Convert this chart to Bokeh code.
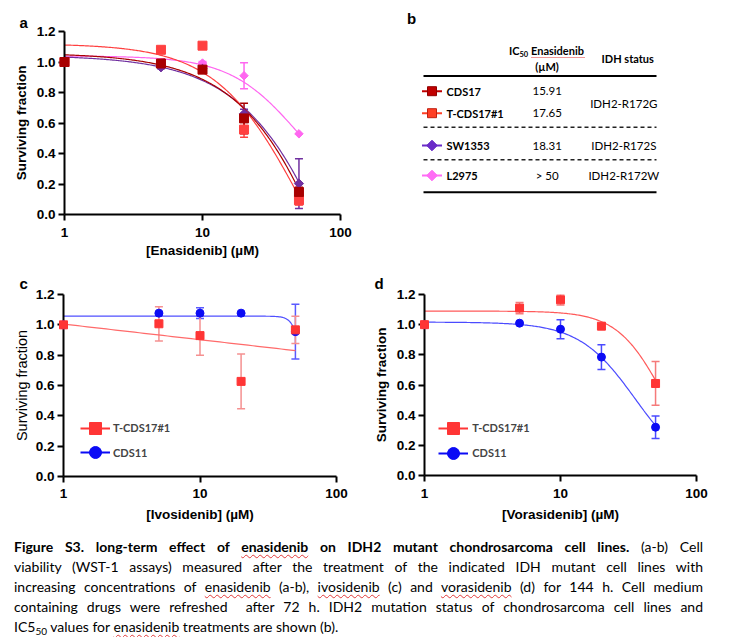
import numpy as np
from bokeh.plotting import figure
from bokeh.models import (ColumnDataSource, Range1d, Whisker, TeeHead, Legend,
                          LegendItem, Div, FixedTicker, NumeralTickFormatter, BasicTickFormatter)
from bokeh.layouts import column, row
from bokeh.embed import file_html
from bokeh.resources import INLINE
from bokeh.core.properties import value

FONT = "Liberation Sans"
TFONT = "Lato"

# ---------------- data ----------------
doses = [1, 5, 10, 20, 50]
x_ticks = [1, 10, 100]
y_ticks = [0.0, 0.2, 0.4, 0.6, 0.8, 1.0, 1.2]

# panel a : enasidenib
a_cds17 = [1.00, 0.99, 0.95, 0.63, 0.148]
a_cds17_err = [0.0, 0.03, 0.02, 0.10, 0.03]
a_tcds17 = [1.00, 1.08, 1.107, 0.557, 0.093]
a_tcds17_err = [0.0, 0.0, 0.0, 0.05, 0.03]
a_sw1353 = [1.00, 0.965, 0.955, 0.66, 0.203]
a_sw1353_err = [0.0, 0.01, 0.01, 0.03, 0.163]
a_l2975 = [1.00, 0.99, 0.993, 0.91, 0.529]
a_l2975_err = [0.0, 0.01, 0.01, 0.085, 0.0]
# fitted dose-response parameters: top, bottom, IC50, hill
a_cds17_fit = [1.06, -3.0, 149.4, 1.149]
a_tcds17_fit = [1.12, -1.0, 54.2, 1.38]
a_sw1353_fit = [1.045, -3.0, 166.5, 1.12]
a_l2975_fit = [1.04, 0.0, 51.0, 1.72]

# panel b : table
b_lines = ["CDS17", "T-CDS17#1", "SW1353", "L2975"]
b_ic50 = ["15.91", "17.65", "18.31", "> 50"]
b_status = ["IDH2-R172G", "IDH2-R172S", "IDH2-R172W"]

# panel c : ivosidenib
c_tcds17 = [1.00, 1.007, 0.929, 0.627, 0.967]
c_tcds17_err = [0.0, 0.113, 0.13, 0.18, 0.09]
c_cds11 = [1.00, 1.077, 1.077, 1.077, 0.955]
c_cds11_err = [0.0, 0.01, 0.036, 0.0, 0.18]
c_tcds17_fit = [1.005, -0.103]          # intercept, slope per decade
c_cds11_fit = [1.057, 0.0, 59.6, 12.4]

# panel d : vorasidenib
d_tcds17 = [1.00, 1.11, 1.165, 0.99, 0.61]
d_tcds17_err = [0.0, 0.037, 0.035, 0.0, 0.145]
d_cds11 = [1.00, 1.01, 0.97, 0.785, 0.32]
d_cds11_err = [0.0, 0.0, 0.063, 0.082, 0.075]
d_tcds17_fit = [1.09, 0.0, 56.5, 2.58]
d_cds11_fit = [1.017, 0.0, 35.4, 2.11]

C_CDS17 = "#A80000"
C_TCDS = "#FF4040"
C_SW = "#7030A0"
C_L = "#FF66F0"
C_RED = "#FF3535"
C_BLUE = "#0B0BF5"


def fit_curve(params, xmax=50):
    top, bottom, ic50, hill = params
    xs = np.logspace(0, np.log10(xmax), 200)
    ys = bottom + (top - bottom) / (1 + (xs / ic50) ** hill)
    return xs, ys


def loglin_curve(params, xmax=50):
    a, b = params
    xs = np.logspace(0, np.log10(xmax), 50)
    return xs, a + b * np.log10(xs)


def panel(fw, fh, bl, br, bt, bb, xlabel, ylabel, letter, loff, lstand, lvalign="bottom",
          ybold=True, ysize="13.5px", xms=7, xls=3, yls=5):
    p = figure(x_axis_type="log", x_range=Range1d(1, 100), y_range=Range1d(0, 1.2),
               frame_width=fw, frame_height=fh, min_border_left=bl, min_border_right=br,
               min_border_top=bt, min_border_bottom=bb, output_backend="svg",
               toolbar_location=None, title=letter, frame_align=False)
    p.title.align = "left"
    p.title.vertical_align = lvalign
    p.title.offset = loff
    p.title.standoff = lstand
    p.title.text_font = FONT
    p.title.text_font_style = "bold"
    p.title.text_font_size = "15px"
    p.title.text_color = "black"
    p.xgrid.visible = False
    p.ygrid.visible = False
    p.outline_line_color = None
    xa, ya = p.xaxis[0], p.yaxis[0]
    xa.ticker = FixedTicker(ticks=x_ticks)
    xa.formatter = BasicTickFormatter()
    ya.ticker = FixedTicker(ticks=y_ticks)
    ya.formatter = NumeralTickFormatter(format="0.0")
    for ax in (xa, ya):
        ax.axis_line_width = 2
        ax.axis_line_color = "black"
        ax.major_tick_line_width = 2
        ax.major_tick_line_color = "black"
        ax.major_tick_out = 6
        ax.major_tick_in = 0
        ax.minor_tick_line_color = None
        ax.major_label_text_font = FONT
        ax.major_label_text_font_style = "bold"
        ax.major_label_text_font_size = "13.5px"
        ax.major_label_text_color = "black"
        ax.axis_label_text_font = FONT
        ax.axis_label_text_color = "black"
    xa.major_label_standoff = xms
    ya.major_label_standoff = 3
    xa.axis_label = xlabel
    xa.axis_label_text_font_style = "bold"
    xa.axis_label_text_font_size = "13.5px"
    xa.axis_label_standoff = xls
    ya.axis_label = ylabel
    ya.axis_label_text_font_style = "bold" if ybold else "normal"
    ya.axis_label_text_font_size = ysize
    ya.axis_label_standoff = yls
    return p


def add_series(p, mean, err, color, marker, size, err_color, angle=0.0):
    src = ColumnDataSource(dict(x=doses, y=mean))
    ex = [d for d, e in zip(doses, err) if e > 0]
    if ex:
        lo = [m - e for m, e in zip(mean, err) if e > 0]
        hi = [m + e for m, e in zip(mean, err) if e > 0]
        esrc = ColumnDataSource(dict(x=ex, lo=lo, hi=hi))
        w = Whisker(source=esrc, base="x", upper="hi", lower="lo", dimension="height",
                    line_color=err_color, line_width=1.5,
                    upper_head=TeeHead(size=8, line_color=err_color, line_width=1.5),
                    lower_head=TeeHead(size=8, line_color=err_color, line_width=1.5))
        p.add_layout(w)
    r = p.scatter("x", "y", source=src, marker=marker, size=size, fill_color=color,
                  line_color=color, angle=angle)
    r.level = "overlay"
    return r


# ---------------- panel a ----------------
pa = panel(276, 183, 64, 40, 31, 56, "[Enasidenib] (\u00b5M)", "Surviving fraction",
           "a", -45, 1, xms=7, xls=3, yls=5)
for fit, col in [(a_l2975_fit, C_L), (a_sw1353_fit, C_SW), (a_tcds17_fit, C_TCDS), (a_cds17_fit, C_CDS17)]:
    xs, ys = fit_curve(fit)
    pa.line(xs, ys, line_color=col, line_width=1.2)
add_series(pa, a_l2975, a_l2975_err, C_L, "square", 6, C_L, np.pi / 4)
add_series(pa, a_sw1353, a_sw1353_err, C_SW, "square", 6.5, C_SW, np.pi / 4)
add_series(pa, a_tcds17, a_tcds17_err, C_TCDS, "square", 9, C_TCDS)
add_series(pa, a_cds17, a_cds17_err, C_CDS17, "square", 9, C_CDS17)

# ---------------- panel b ----------------
pb = figure(x_range=Range1d(380, 747), y_range=Range1d(270, 0), width=367, height=270,
            frame_width=367, frame_height=270, min_border=0, x_axis_location=None,
            y_axis_location=None, output_backend="svg", toolbar_location=None, title=None,
            frame_align=False)
pb.outline_line_color = None
pb.xgrid.visible = False
pb.ygrid.visible = False
row_y = [90.7, 112.7, 145, 175]
status_y = [103.3, 145, 175]
icon_cols = ["#C00000", "#FF3F25", "#6A2BC8", "#FF6CF5"]
pb.text(x=[406.5], y=[18.3], text=["b"], text_font=value(FONT), text_font_style="bold",
        text_font_size="15px", text_baseline="middle", text_align="left")
hdr = dict(text_font=value(TFONT), text_font_style="bold", text_font_size="11px",
           text_baseline="middle", text_color="black")
pb.text(x=[508.5], y=[50.3], text=["IC"], text_align="left", **hdr)
pb.text(x=[519], y=[53], text=["50"], text_align="left", text_font=value(TFONT),
        text_font_style="bold", text_font_size="7.5px", text_baseline="middle")
pb.text(x=[530.5], y=[50.3], text=["Enasidenib"], text_align="left", **hdr)
pb.text(x=[546.5], y=[65.7], text=["(\u00b5M)"], text_align="center", **hdr)
pb.text(x=[627.2], y=[58.3], text=["IDH status"], text_align="center", **hdr)
pb.segment(x0=[531], y0=[57], x1=[584], y1=[57], line_color="#E03030",
           line_width=1, line_dash="1 1")
pb.segment(x0=[423, 423], y0=[75.5, 191.7], x1=[656, 656], y1=[75.5, 191.7],
           line_color="black", line_width=2)
pb.segment(x0=[423, 423], y0=[126.7, 159.3], x1=[656, 656], y1=[126.7, 159.3],
           line_color="#222222", line_width=1.6, line_dash="4 3")
pb.segment(x0=[421.5] * 4, y0=row_y, x1=[441.5] * 4, y1=row_y, line_color=icon_cols,
           line_width=2)
pb.scatter(x=[431.5] * 2, y=row_y[:2], marker="square", size=9, fill_color=icon_cols[:2],
           line_color=["#900000", "#C02010"])
pb.scatter(x=[431.5] * 2, y=row_y[2:], marker="square", size=7.5, angle=np.pi / 4,
           fill_color=icon_cols[2:], line_color=icon_cols[2:])
pb.text(x=[446] * 4, y=row_y, text=b_lines, text_align="left", **hdr)
pb.text(x=[546.7] * 4, y=row_y, text=b_ic50, text_align="center", text_font=value(TFONT),
        text_font_size="11.5px", text_baseline="middle", text_color="black")
pb.text(x=[623.3] * 3, y=status_y, text=b_status, text_align="center", text_font=value(TFONT),
        text_font_size="11.5px", text_baseline="middle", text_color="black")


def legend_for(p, r_red, r_blue, xloc, y1, y2, standoff):
    d1 = p.line(x=[np.nan], y=[np.nan], line_color=C_RED, line_width=2)
    d2 = p.line(x=[np.nan], y=[np.nan], line_color=C_BLUE, line_width=2)
    for lab, rs, yl in [("T-CDS17#1", [d1, r_red], y1), ("CDS11", [d2, r_blue], y2)]:
        lg = Legend(items=[LegendItem(label=lab, renderers=rs)],
                    location=(xloc, yl), glyph_width=30, glyph_height=30, label_height=20,
                    padding=0, margin=0, border_line_color=None,
                    background_fill_alpha=0, label_standoff=standoff,
                    label_text_font=TFONT, label_text_font_style="bold",
                    label_text_font_size="11px", label_text_baseline="middle")
        p.add_layout(lg)


# ---------------- panel c ----------------
pc = panel(273, 182, 63, 34, 24, 54, "[Ivosidenib] (\u00b5M)", "Surviving fraction",
           "c", -44, 2, lvalign="top", ybold=False, ysize="14.5px", xms=6, xls=6, yls=3)
xs, ys = fit_curve(c_cds11_fit)
pc.line(xs, ys, line_color="#5050FF", line_width=1.2)
xs, ys = loglin_curve(c_tcds17_fit)
pc.line(xs, ys, line_color="#FF6A6A", line_width=1.2)
rb = add_series(pc, c_cds11, c_cds11_err, C_BLUE, "circle", 8, "#5A5AFF")
rr = add_series(pc, c_tcds17, c_tcds17_err, C_RED, "square", 8, "#F59090")
legend_for(pc, rr, rb, 17, 33.3, 8.7, 3)

# ---------------- panel d ----------------
pd_ = panel(272, 181, 54, 51, 24, 55, "[Vorasidenib] (\u00b5M)", "Surviving fraction",
            "d", -50, 2, lvalign="top", xms=7, xls=6, yls=5)
xs, ys = fit_curve(d_cds11_fit)
pd_.line(xs, ys, line_color="#4B4BFF", line_width=1.2)
xs, ys = fit_curve(d_tcds17_fit)
pd_.line(xs, ys, line_color="#FF5A5A", line_width=1.2)
rb = add_series(pd_, d_cds11, d_cds11_err, C_BLUE, "circle", 8, "#4A4AFF")
rr = add_series(pd_, d_tcds17, d_tcds17_err, C_RED, "square", 8, "#F57A7A")
legend_for(pd_, rr, rb, 14.3, 32.3, 7.3, 4)

# ---------------- caption ----------------
wavy = ("text-decoration:underline wavy #E03838;text-decoration-thickness:1px;"
        "text-underline-offset:2px;")


def sp(w):
    return f'<span style="{wavy}">{w}</span>'


caption_lines = [
    f'<b>Figure S3. long-term effect of {sp("enasidenib")} on IDH2 mutant chondrosarcoma cell lines.</b> (a-b) Cell',
    'viability (WST-1 assays) measured after the treatment of the indicated IDH mutant cell lines with',
    f'increasing concentrations of {sp("enasidenib")} (a-b), {sp("ivosidenib")} (c) and {sp("vorasidenib")} (d) for 144 h. Cell medium',
    'containing drugs were refreshed&nbsp; after 72 h. IDH2 mutation status of chondrosarcoma cell lines and',
    f'IC5<sub style="font-size:10px;line-height:0;vertical-align:-3px">50</sub> values for {sp("enasidenib")} treatments are shown (b).',
]
line_css = "height:20px;line-height:20px;white-space:nowrap;"
html = ('<div style="font-family:Lato;font-size:14px;color:#000;padding:7px 0 0 14px;'
        'width:703px;">')
for i, ln in enumerate(caption_lines):
    al = "text-align:justify;text-align-last:justify;" if i < len(caption_lines) - 1 else "text-align:left;"
    html += f'<div style="{line_css}{al}">{ln}</div>'
html += '</div>'
cap = Div(text=html, width=747, height=107, margin=(0, 0, 0, 0))

layout = column(row(pa, pb), row(pc, pd_), cap)
open("out.html", "w").write(file_html(layout, INLINE))
